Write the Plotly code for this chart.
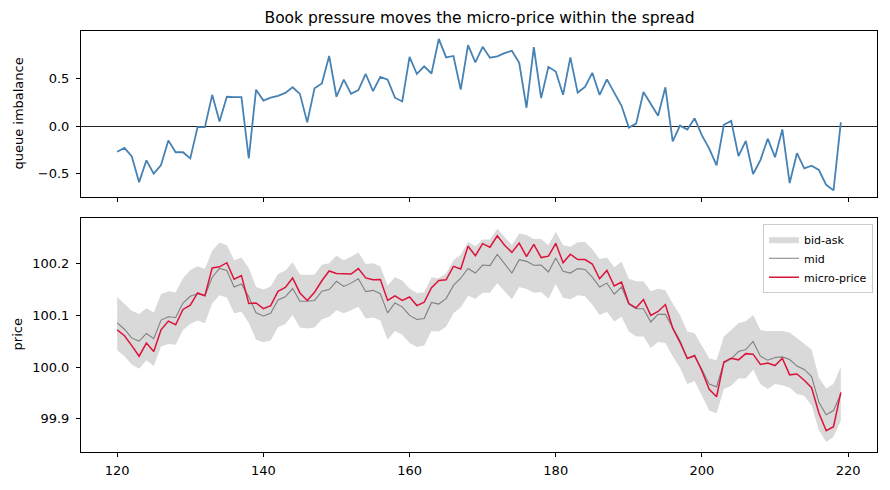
import plotly.graph_objects as go
from plotly.subplots import make_subplots

t = list(range(120, 220))

imbalance = [
    -0.27, -0.23, -0.32, -0.59, -0.36, -0.50, -0.41, -0.15, -0.275, -0.275,
    -0.34, -0.01, -0.01, 0.33, 0.05, 0.31, 0.307, 0.305, -0.34, 0.385,
    0.27, 0.30, 0.32, 0.35, 0.41, 0.34, 0.04, 0.40, 0.45, 0.74,
    0.31, 0.49, 0.34, 0.38, 0.55, 0.37, 0.52, 0.49, 0.30, 0.26,
    0.73, 0.55, 0.63, 0.555, 0.92, 0.725, 0.74, 0.385, 0.854, 0.673,
    0.836, 0.722, 0.735, 0.77, 0.795, 0.667, 0.194, 0.833, 0.295, 0.625,
    0.576, 0.33, 0.725, 0.354, 0.413, 0.562, 0.33, 0.493, 0.354, 0.215,
    -0.015, 0.027, 0.36, 0.232, 0.11, 0.41, -0.16, 0.006, -0.035, 0.083,
    -0.098, -0.236, -0.413, 0.014, 0.055, -0.316, -0.156, -0.504, -0.358, -0.132,
    -0.327, -0.035, -0.60, -0.285, -0.445, -0.417, -0.462, -0.618, -0.677, 0.04,
]

mid = [
    100.0855, 100.0733, 100.056, 100.0503, 100.065, 100.0548, 100.091, 100.0975, 100.096, 100.124,
    100.137, 100.142, 100.138, 100.174, 100.191, 100.187, 100.155, 100.161, 100.136, 100.105,
    100.099, 100.104, 100.130, 100.136, 100.152, 100.1275, 100.1275, 100.129, 100.147, 100.150,
    100.166, 100.156, 100.1625, 100.171, 100.146, 100.1485, 100.142, 100.105, 100.124, 100.1166,
    100.100, 100.092, 100.094, 100.125, 100.122, 100.1325, 100.158, 100.172, 100.191, 100.182,
    100.1975, 100.1963, 100.218, 100.1995, 100.182, 100.208, 100.2046, 100.197, 100.1975, 100.184,
    100.211, 100.1855, 100.182, 100.1906, 100.189, 100.174, 100.155, 100.1625, 100.141, 100.155,
    100.122, 100.113, 100.113, 100.0873, 100.102, 100.102, 100.075, 100.051, 100.0172, 100.021,
    99.9955, 99.967, 99.962, 100.008, 100.016, 100.030, 100.034, 100.0497, 100.021, 100.0134,
    100.0185, 100.0197, 100.0147, 100.002, 99.9955, 99.9815, 99.9317, 99.9076, 99.9159, 99.948,
]

micro = [
    100.072, 100.0606, 100.0415, 100.021, 100.0465, 100.030, 100.072, 100.089, 100.082, 100.1115,
    100.120, 100.1435, 100.138, 100.192, 100.194, 100.202, 100.170, 100.177, 100.123, 100.124,
    100.113, 100.119, 100.1465, 100.154, 100.1725, 100.1435, 100.129, 100.145, 100.167, 100.186,
    100.181, 100.180, 100.180, 100.1906, 100.1727, 100.169, 100.1696, 100.129, 100.138, 100.129,
    100.1357, 100.119, 100.1255, 100.1535, 100.1677, 100.169, 100.195, 100.190, 100.234, 100.2155,
    100.239, 100.232, 100.254, 100.2357, 100.222, 100.240, 100.214, 100.2377, 100.212, 100.2147,
    100.2396, 100.202, 100.2186, 100.208, 100.208, 100.1995, 100.171, 100.187, 100.157, 100.1644,
    100.123, 100.1147, 100.1306, 100.100, 100.1077, 100.121, 100.075, 100.048, 100.0166, 100.0224,
    99.9924, 99.957, 99.9426, 100.010, 100.0172, 100.014, 100.026, 100.025, 100.005, 100.008,
    100.003, 100.0172, 99.985, 99.9866, 99.9745, 99.960, 99.911, 99.877, 99.8847, 99.951,
]

ask = [
    100.1357, 100.123, 100.109, 100.1027, 100.114, 100.1058, 100.141, 100.147, 100.145, 100.172,
    100.188, 100.195, 100.190, 100.225, 100.241, 100.236, 100.207, 100.212, 100.192, 100.155,
    100.150, 100.156, 100.180, 100.187, 100.203, 100.179, 100.178, 100.179, 100.198, 100.201,
    100.216, 100.207, 100.2135, 100.222, 100.1995, 100.201, 100.1945, 100.158, 100.174, 100.1677,
    100.152, 100.1434, 100.145, 100.174, 100.172, 100.1816, 100.207, 100.2174, 100.242, 100.234,
    100.247, 100.247, 100.268, 100.252, 100.2365, 100.2587, 100.2556, 100.248, 100.248, 100.2357,
    100.262, 100.2357, 100.233, 100.2415, 100.242, 100.228, 100.209, 100.212, 100.193, 100.204,
    100.171, 100.166, 100.1663, 100.1466, 100.1516, 100.1485, 100.123, 100.101, 100.069, 100.0656,
    100.042, 100.0166, 100.0134, 100.0593, 100.072, 100.0847, 100.0885, 100.101, 100.072, 100.0694,
    100.070, 100.070, 100.067, 100.056, 100.0434, 100.034, 99.9795, 99.9585, 99.967, 100.0006,
]

bid = [
    100.0325, 100.021, 100.005, 99.9968, 100.0134, 100.002, 100.040, 100.0446, 100.0434, 100.072,
    100.0835, 100.090, 100.0847, 100.123, 100.139, 100.1345, 100.104, 100.107, 100.086, 100.053,
    100.048, 100.0516, 100.077, 100.0835, 100.101, 100.0765, 100.0746, 100.0765, 100.0925, 100.0975,
    100.110, 100.104, 100.110, 100.1166, 100.094, 100.096, 100.090, 100.053, 100.070, 100.0625,
    100.0465, 100.039, 100.042, 100.070, 100.0688, 100.078, 100.104, 100.1153, 100.138, 100.1325,
    100.144, 100.144, 100.1625, 100.146, 100.1313, 100.155, 100.151, 100.144, 100.1453, 100.1325,
    100.161, 100.134, 100.1313, 100.139, 100.137, 100.121, 100.101, 100.107, 100.088, 100.0975,
    100.069, 100.0593, 100.0593, 100.037, 100.0484, 100.0465, 100.021, 99.9987, 99.967, 99.973,
    99.9446, 99.916, 99.9107, 99.9574, 99.9637, 99.9777, 99.9777, 99.9955, 99.967, 99.9574,
    99.967, 99.965, 99.960, 99.948, 99.9446, 99.9254, 99.8776, 99.855, 99.865, 99.8967,
]

x_ticks = [120, 140, 160, 180, 200, 220]
imb_ticks = [-0.5, 0.0, 0.5]
price_ticks = [99.9, 100.0, 100.1, 100.2]

FONT = "DejaVu Sans"
W, H = 890, 490
ML, MR, MT, MB = 81, 12, 31, 33
plot_h = H - MT - MB

fig = make_subplots(rows=2, cols=1, shared_xaxes=True, vertical_spacing=0.0)

fig.add_trace(go.Scatter(x=t, y=imbalance, mode="lines",
                         line=dict(color="#4682b4", width=1.8),
                         showlegend=False), row=1, col=1)

fig.add_trace(go.Scatter(x=t, y=bid, mode="lines", line=dict(width=0, color="#d9d9d9"),
                         showlegend=False, hoverinfo="skip"), row=2, col=1)
fig.add_trace(go.Scatter(x=t, y=ask, mode="lines", line=dict(width=0, color="#d9d9d9"),
                         fill="tonexty", fillcolor="#d9d9d9", name="bid-ask"), row=2, col=1)
fig.add_trace(go.Scatter(x=t, y=mid, mode="lines", line=dict(color="#808080", width=1.1),
                         name="mid"), row=2, col=1)
fig.add_trace(go.Scatter(x=t, y=micro, mode="lines", line=dict(color="#dc143c", width=1.5),
                         name="micro-price"), row=2, col=1)

top_lo = (H - MB - 199) / plot_h
bot_hi = (H - MB - 220) / plot_h

axis_common = dict(showline=True, mirror=True, linecolor="black", linewidth=1,
                   ticks="outside", ticklen=4, tickwidth=1, tickcolor="black",
                   showgrid=False, zeroline=False,
                   tickfont=dict(family=FONT, size=13, color="black"))

fig.update_xaxes(range=[115.05, 223.95], tickvals=x_ticks, ticklabelstandoff=2, **axis_common)
fig.update_xaxes(showticklabels=False, row=1, col=1)
fig.update_yaxes(ticklabelstandoff=4, **axis_common)
fig.update_yaxes(range=[-0.747, 1.003], tickvals=imb_ticks, tickformat=".1f",
                 domain=[top_lo, 1.0], zeroline=True, zerolinecolor="#222222",
                 zerolinewidth=1, row=1, col=1)
fig.update_yaxes(range=[99.8356, 100.289], tickvals=price_ticks, tickformat=".1f",
                 domain=[0.0, bot_hi], row=2, col=1)

fig.update_layout(
    width=W, height=H, autosize=False,
    margin=dict(l=ML, r=MR, t=MT, b=MB),
    paper_bgcolor="white", plot_bgcolor="white",
    font=dict(family=FONT, size=13, color="black"),
    title=dict(text="Book pressure moves the micro-price within the spread",
               x=(ML + (W - MR - ML) / 2) / W, xanchor="center",
               y=1 - 18 / H, yanchor="middle", yref="container",
               font=dict(family=FONT, size=15.5, color="black")),
    legend=dict(x=(874 - ML) / (W - ML - MR), xanchor="right",
                y=(H - MB - 226) / plot_h, yanchor="top",
                traceorder="normal",
                bgcolor="rgba(255,255,255,0.8)", bordercolor="#cccccc", borderwidth=1,
                font=dict(family=FONT, size=11, color="black"),
                itemwidth=30, tracegroupgap=0),
    showlegend=True,
)

lab_x = (17.5 - ML) / (W - ML - MR)
fig.add_annotation(text="queue imbalance", xref="paper", yref="paper",
                   x=lab_x, y=(H - MB - 115) / plot_h, textangle=-90,
                   showarrow=False, xanchor="center", yanchor="middle",
                   font=dict(family=FONT, size=13, color="black"))
fig.add_annotation(text="price", xref="paper", yref="paper",
                   x=lab_x, y=(H - MB - 338.5) / plot_h, textangle=-90,
                   showarrow=False, xanchor="center", yanchor="middle",
                   font=dict(family=FONT, size=13, color="black"))

fig.write_html("out.html")
